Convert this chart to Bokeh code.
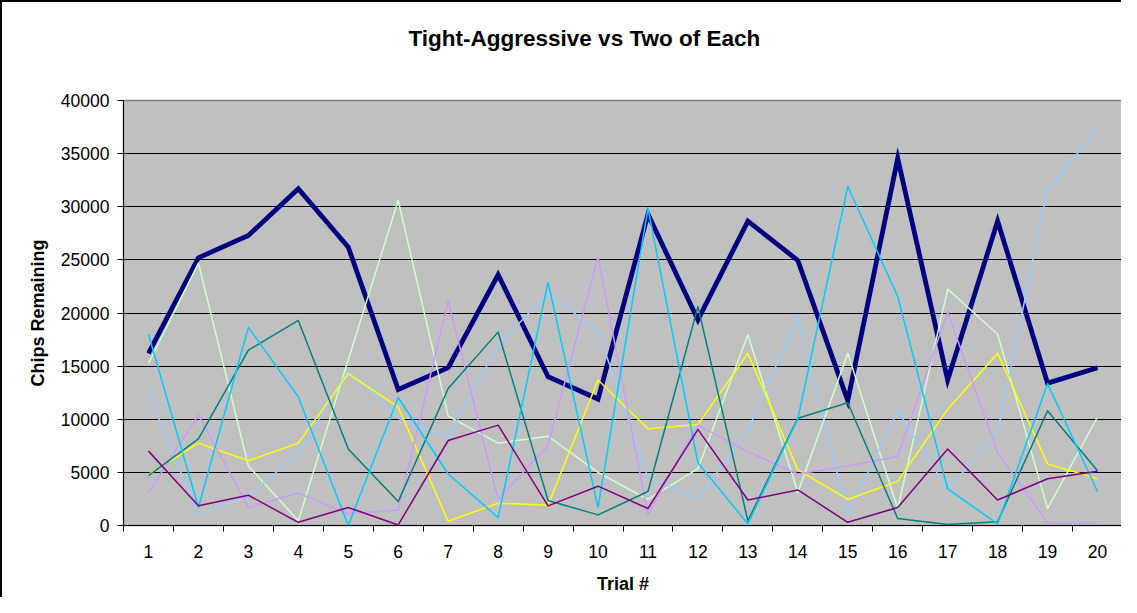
from bokeh.plotting import figure
from bokeh.models import FixedTicker, NumeralTickFormatter, Range1d, Title
from bokeh.embed import file_html
from bokeh.resources import INLINE

trials = list(range(1, 21))

tight_aggressive = [16200, 25200, 27300, 31700, 26200, 12800, 14850, 23600, 14000, 11900,
                    29300, 19350, 28650, 24950, 11750, 34550, 13700, 28650, 13400, 14850]
light_green = [15250, 24700, 5600, 450, 15600, 30600, 10300, 7750, 8400, 5000,
               2450, 5350, 17950, 3100, 16200, 1600, 22250, 18000, 1600, 10200]
pale_blue = [12400, 1000, 2800, 6750, 14600, 10100, 8300, 17000, 21850, 18300,
             4550, 2500, 8950, 19750, 1000, 10800, 3350, 8800, 31650, 37300]
yellow = [4800, 7750, 6100, 7750, 14300, 11150, 400, 2100, 1900, 13700,
          9100, 9500, 16200, 5250, 2450, 4150, 10950, 16200, 5800, 4400]
lavender = [3100, 10400, 1700, 3050, 1100, 1450, 21150, 2450, 7550, 25250,
            1050, 9450, 6950, 4850, 5600, 6500, 20100, 6850, 250, 250]
teal = [4700, 8150, 16500, 19300, 7200, 2250, 12900, 18200, 2350, 1000,
        3200, 20600, 450, 10100, 11550, 650, 100, 350, 10800, 5150]
sky_blue = [18000, 1700, 18650, 12100, 0, 12050, 4850, 750, 22900, 1700,
            29850, 5900, 150, 10050, 31900, 21550, 3450, 150, 13350, 3200]
purple = [7000, 1850, 2850, 300, 1700, 50, 8000, 9450, 1850, 3700,
          1600, 9050, 2400, 3350, 300, 1700, 7200, 2400, 4400, 5100]

y_ticks = [0, 5000, 10000, 15000, 20000, 25000, 30000, 35000, 40000]

FONT = "Liberation Sans"

p = figure(width=1121, height=597, output_backend="svg", toolbar_location=None,
           x_range=Range1d(0.5, 20.5), y_range=Range1d(0, 40000),
           min_border_left=121, min_border_right=1, min_border_top=98, min_border_bottom=74)

p.background_fill_color = "#C0C0C0"
p.border_fill_color = "white"
p.outline_line_color = "#808080"
p.outline_line_width = 1.5
p.styles = {"border-top": "2px solid black", "border-left": "2px solid black"}

# spacer between the frame and the title (closest to the frame)
spacer = Title(text=" ", text_font=FONT, text_font_size="20px", standoff=26)
p.add_layout(spacer, "above")
title = Title(text="Tight-Aggressive vs Two of Each", align="left", offset=285,
              text_font=FONT, text_font_style="bold", text_font_size="22.5px",
              text_color="black", standoff=0)
p.add_layout(title, "above")

# axes
p.xaxis.ticker = FixedTicker(ticks=trials, minor_ticks=[t - 0.5 for t in trials] + [trials[-1] + 0.5])
p.xaxis.major_tick_out = 0
p.xaxis.major_tick_in = 0
p.xaxis.minor_tick_out = 6
p.xaxis.minor_tick_in = 0
p.xaxis.minor_tick_line_color = "black"
p.xaxis.major_label_standoff = 13
p.xaxis.axis_label = "Trial #"
p.xaxis.axis_label_standoff = 13

p.yaxis.ticker = FixedTicker(ticks=y_ticks)
p.yaxis.formatter = NumeralTickFormatter(format="0")
p.yaxis.major_tick_out = 6
p.yaxis.major_tick_in = 0
p.yaxis.minor_tick_out = 0
p.yaxis.minor_tick_in = 0
p.yaxis.major_label_standoff = 8
p.yaxis.axis_label = "Chips Remaining"
p.yaxis.axis_label_standoff = 10

for ax in (p.xaxis, p.yaxis):
    ax.axis_line_color = "black"
    ax.axis_line_width = 1
    ax.major_tick_line_color = "black"
    ax.major_label_text_font = FONT
    ax.major_label_text_font_size = "17.5px"
    ax.major_label_text_color = "black"
    ax.axis_label_text_font = FONT
    ax.axis_label_text_font_style = "bold"
    ax.axis_label_text_font_size = "18px"
    ax.axis_label_text_color = "black"

p.xgrid.grid_line_color = None
p.ygrid.ticker = FixedTicker(ticks=y_ticks[1:-1])
p.ygrid.grid_line_color = "black"
p.ygrid.grid_line_width = 1

series = [
    (tight_aggressive, "#000080", 4.8),
    (light_green, "#CCFFCC", 1.5),
    (pale_blue, "#99CCFF", 1.5),
    (yellow, "#FFFF00", 1.5),
    (lavender, "#CC99FF", 1.5),
    (teal, "#008080", 1.5),
    (sky_blue, "#00CCFF", 1.5),
    (purple, "#800080", 1.5),
]
for vals, color, w in series:
    p.line(trials, vals, line_color=color, line_width=w, line_join="miter" if w > 2 else "round")

open("out.html", "w").write(file_html(p, INLINE))
